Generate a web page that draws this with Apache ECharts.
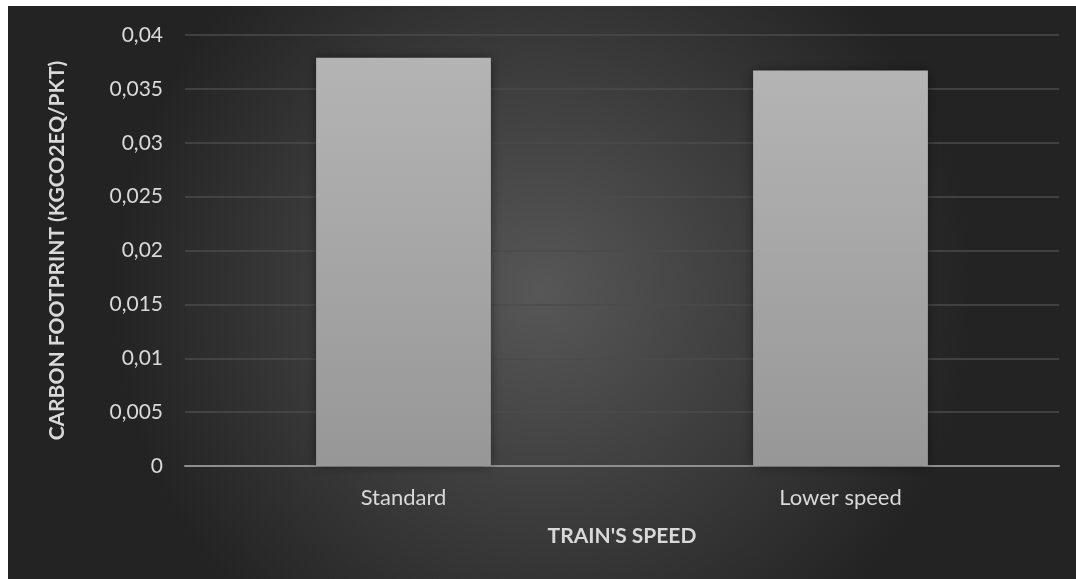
<!DOCTYPE html>
<html>
<head>
<meta charset="utf-8">
<script src="https://cdn.jsdelivr.net/npm/echarts@6/dist/echarts.min.js"></script>
<style>
  html, body { margin: 0; padding: 0; background: #ffffff; }
  #chart { position: absolute; left: 8px; top: 6px; width: 1068px; height: 573px; }
</style>
</head>
<body>
<div id="chart"></div>
<script>
const categories = ['Standard', 'Lower speed'];
const values = [0.0379, 0.0367];
const yMin = 0, yMax = 0.04, yStep = 0.005;
const xAxisTitle = "TRAIN'S SPEED";
const yAxisTitle = 'CARBON FOOTPRINT (KGCO2EQ/PKT)';

const chart = echarts.init(document.getElementById('chart'));
const font = 'Lato, "Open Sans", sans-serif';
chart.setOption({
  animation: false,
  backgroundColor: {
    type: 'radial', x: 0.5, y: 0.5, r: 0.75,
    colorStops: [
      { offset: 0, color: '#575757' },
      { offset: 1, color: '#232323' }
    ]
  },
  grid: { left: 177, right: 17, top: 29, bottom: 113 },
  xAxis: {
    type: 'category',
    data: categories,
    name: xAxisTitle,
    nameLocation: 'middle',
    nameGap: 60,
    nameTextStyle: { color: '#d9d9d9', fontSize: 21, fontWeight: 'bold', fontFamily: font },
    axisLine: { lineStyle: { color: '#8f8f8f', width: 2 } },
    axisTick: { show: false },
    axisLabel: { color: '#d9d9d9', fontSize: 22, fontFamily: font, margin: 21 }
  },
  yAxis: {
    type: 'value',
    min: yMin, max: yMax, interval: yStep,
    name: yAxisTitle,
    nameLocation: 'middle',
    nameRotate: 90,
    nameGap: 117,
    nameTextStyle: { color: '#d9d9d9', fontSize: 21, fontWeight: 'bold', fontFamily: font },
    axisLine: { show: false },
    axisTick: { show: false },
    axisLabel: {
      color: '#d9d9d9', fontSize: 21, fontFamily: font, margin: 22,
      formatter: v => String(Number(v.toFixed(4))).replace('.', ',')
    },
    splitLine: { lineStyle: { color: '#4b4b4b', width: 1.5 } }
  },
  series: [{
    type: 'bar',
    data: values,
    barWidth: '40%',
    itemStyle: {
      color: {
        type: 'linear', x: 0, y: 0, x2: 0, y2: 1,
        colorStops: [
          { offset: 0, color: '#b4b4b4' },
          { offset: 1, color: '#979797' }
        ]
      },
      shadowBlur: 10,
      shadowColor: 'rgba(0,0,0,0.45)'
    }
  }]
});
</script>
</body>
</html>
